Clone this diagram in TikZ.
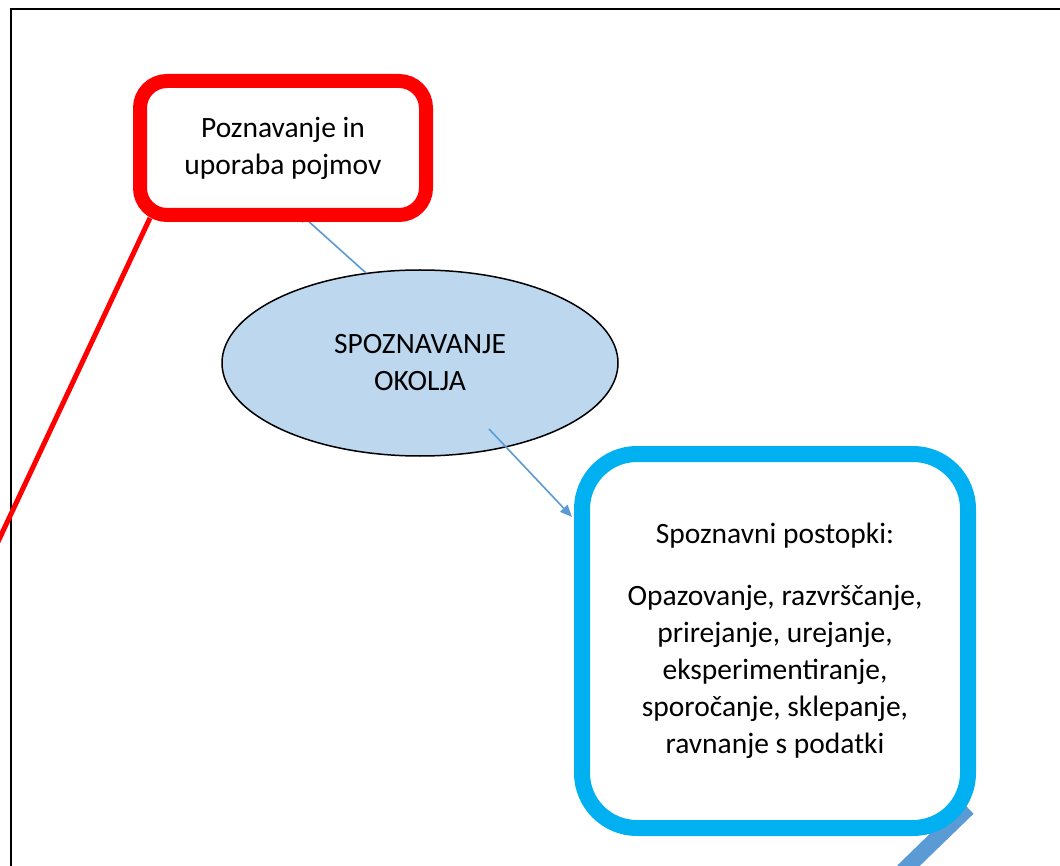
\documentclass[tikz,border=0pt]{standalone}
\usepackage{fontspec}
\setmainfont{Carlito}
\usetikzlibrary{shapes.geometric,arrows.meta}
\definecolor{cyanblue}{RGB}{0,176,240}
\definecolor{arrblue}{RGB}{91,155,213}
\definecolor{ellfill}{RGB}{189,215,238}
\pgfdeclarelayer{front}
\pgfsetlayers{main,front}
\begin{document}
\begin{tikzpicture}[x=1pt,y=-1pt,
  lbl/.style={font=\fontsize{29.5}{37}\selectfont, align=center, text=black},
  redbox/.style={lbl, draw=red, line width=14pt, rounded corners=27pt, fill=white,
    minimum width=286pt, minimum height=134pt, inner sep=0pt},
  bluebox/.style={lbl, draw=cyanblue, line width=16pt, rounded corners=55pt, fill=white,
    minimum width=386pt, minimum height=374pt, inner sep=0pt},
  oval/.style={lbl, ellipse, draw=black, line width=1.5pt, fill=ellfill,
    minimum width=396pt, minimum height=186pt, inner sep=0pt},
  arr/.style={draw=arrblue, line width=1.6pt, -{Triangle[length=12pt,width=10pt]}},
  redlink/.style={draw=red, line width=5pt},
  bar/.style={draw=arrblue, line width=16pt},
  frame/.style={draw=black, line width=2pt}]
\path[use as bounding box, clip] (0,0) rectangle (1060,866);
\fill[white] (0,0) rectangle (1060,866);
\draw[frame] (11,870) -- (11,9) -- (1065,9);
\begin{pgfonlayer}{front}
\node[redbox] (rbox) at (283,148) {Poznavanje in\\uporaba pojmov};
\node[bluebox] (bbox) at (775,641) {Spoznavni postopki:\\[25pt]Opazovanje, razvrščanje,\\prirejanje, urejanje,\\eksperimentiranje,\\sporočanje, sklepanje,\\ravnanje s podatki};
\end{pgfonlayer}
\node[oval] (ell) at (420,363) {SPOZNAVANJE\\OKOLJA};
\coordinate (redend) at (-12,563);
\coordinate (barend) at (903,871);
\draw[arr] (ell.121) -- ([xshift=14pt,yshift=11pt]rbox.south);
\draw[arr] ([xshift=69pt,yshift=-66pt]ell.center) -- ([xshift=-2pt,yshift=124pt]bbox.west);
\draw[redlink] ([xshift=17pt,yshift=4pt]rbox.south west) -- (redend);
\draw[bar] ([xshift=-8pt,yshift=28pt]bbox.south east) -- (barend);
\end{tikzpicture}
\end{document}
